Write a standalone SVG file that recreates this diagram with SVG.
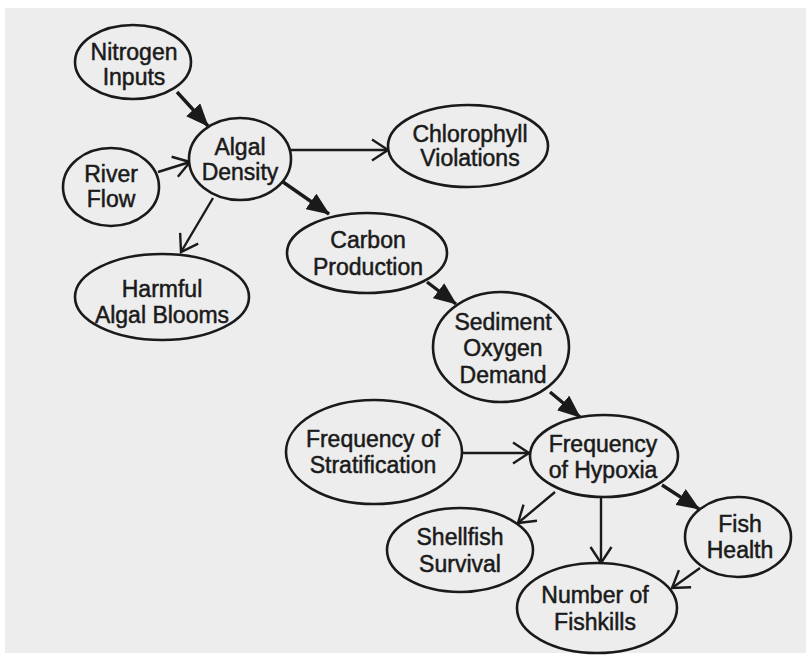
<svg xmlns="http://www.w3.org/2000/svg" width="806" height="656" viewBox="0 0 806 656">
<style>
.n ellipse{fill:#ededed;stroke:#1a1a1a;stroke-width:2.6}
.n text{font-family:"Liberation Sans",Arial,sans-serif;font-size:23px;fill:#1a1a1a;stroke:#1a1a1a;stroke-width:0.5;text-anchor:middle}
.e line{stroke:#1a1a1a;fill:none}
.s{stroke-width:3.4}
.t{stroke-width:2.4}
</style>
<defs>
<marker id="fa" markerUnits="userSpaceOnUse" markerWidth="23" markerHeight="19" refX="22" refY="9.5" orient="auto" viewBox="0 0 23 19">
<path d="M0,0 L23,9.5 L0,19 z" fill="#1a1a1a"/>
</marker>
<marker id="oa" markerUnits="userSpaceOnUse" markerWidth="20" markerHeight="24" refX="17" refY="12" orient="auto" viewBox="0 0 20 24">
<path d="M1,1.5 L17,12 L1,22.5" fill="none" stroke="#1a1a1a" stroke-width="2.4"/>
</marker>
</defs>
<rect width="806" height="656" fill="#ffffff"/>
<rect x="5" y="8" width="801" height="645" fill="#ededed"/>
<g class="e" id="connectors">
<line class="s" x1="177" y1="92" x2="208" y2="126" marker-end="url(#fa)"/>
<line class="t" x1="158" y1="172" x2="190" y2="162" marker-end="url(#oa)"/>
<line class="t" x1="290" y1="150" x2="388" y2="150" marker-end="url(#oa)"/>
<line class="s" x1="283" y1="182" x2="329" y2="214" marker-end="url(#fa)"/>
<line class="t" x1="213" y1="198" x2="181" y2="252" marker-end="url(#oa)"/>
<line class="s" x1="427" y1="282" x2="456" y2="304" marker-end="url(#fa)"/>
<line class="s" x1="550" y1="392" x2="580" y2="417" marker-end="url(#fa)"/>
<line class="t" x1="462" y1="453" x2="529" y2="453" marker-end="url(#oa)"/>
<line class="t" x1="555" y1="492" x2="518" y2="523" marker-end="url(#oa)"/>
<line class="t" x1="601" y1="497" x2="601" y2="563" marker-end="url(#oa)"/>
<line class="s" x1="662" y1="485" x2="699" y2="509" marker-end="url(#fa)"/>
<line class="t" x1="700" y1="568" x2="672" y2="588" marker-end="url(#oa)"/>
</g>
<g class="n" id="nitrogen-inputs"><ellipse cx="133" cy="62" rx="58" ry="37"/><text x="134" y="60">Nitrogen</text><text x="134" y="85">Inputs</text></g>
<g class="n" id="river-flow"><ellipse cx="111" cy="187" rx="48" ry="39"/><text x="111" y="182">River</text><text x="111" y="207">Flow</text></g>
<g class="n" id="algal-density"><ellipse cx="240" cy="159" rx="51" ry="41"/><text x="240" y="155">Algal</text><text x="240" y="180">Density</text></g>
<g class="n" id="chlorophyll-violations"><ellipse cx="468" cy="146" rx="80" ry="41"/><text x="470" y="142">Chlorophyll</text><text x="470" y="166">Violations</text></g>
<g class="n" id="harmful-algal-blooms"><ellipse cx="162" cy="297" rx="87" ry="43"/><text x="162" y="297">Harmful</text><text x="162" y="323">Algal Blooms</text></g>
<g class="n" id="carbon-production"><ellipse cx="367" cy="253" rx="80" ry="40"/><text x="368" y="248">Carbon</text><text x="368" y="275">Production</text></g>
<g class="n" id="sediment-oxygen-demand"><ellipse cx="501" cy="347" rx="68" ry="55"/><text x="503" y="330">Sediment</text><text x="503" y="356">Oxygen</text><text x="503" y="383">Demand</text></g>
<g class="n" id="frequency-of-stratification"><ellipse cx="374" cy="452" rx="88" ry="52"/><text x="373" y="447">Frequency of</text><text x="373" y="473">Stratification</text></g>
<g class="n" id="frequency-of-hypoxia"><ellipse cx="604" cy="456" rx="74" ry="41"/><text x="603" y="452">Frequency</text><text x="603" y="478">of Hypoxia</text></g>
<g class="n" id="shellfish-survival"><ellipse cx="460" cy="550" rx="73" ry="42"/><text x="460" y="545">Shellfish</text><text x="460" y="572">Survival</text></g>
<g class="n" id="fish-health"><ellipse cx="738" cy="537" rx="53" ry="40"/><text x="740" y="532">Fish</text><text x="740" y="558">Health</text></g>
<g class="n" id="number-of-fishkills"><ellipse cx="597" cy="608" rx="80" ry="45"/><text x="595" y="603">Number of</text><text x="595" y="630">Fishkills</text></g>
</svg>
